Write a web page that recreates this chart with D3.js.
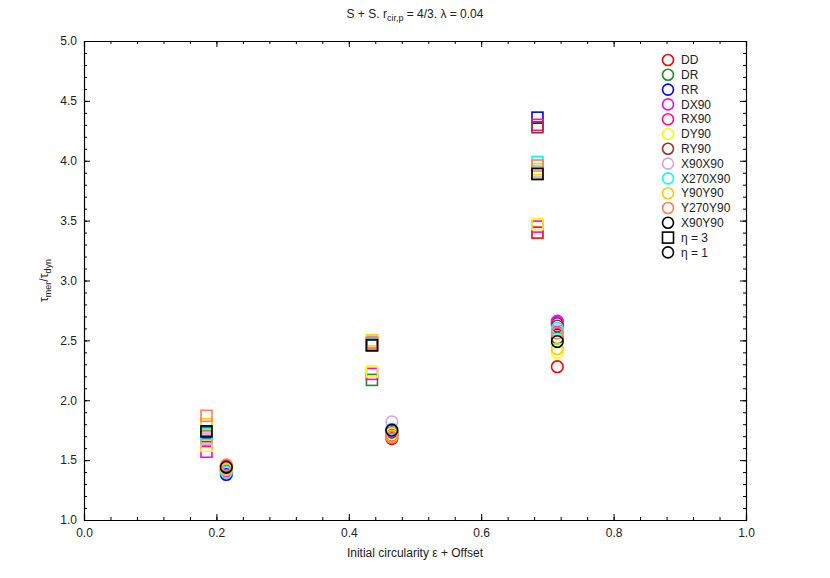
<!DOCTYPE html>
<html>
<head>
<meta charset="utf-8">
<script src="https://cdn.jsdelivr.net/npm/d3@7/dist/d3.min.js"></script>
<style>
body { margin: 0; background: #fff; }
text { font-family: "Liberation Sans", Arial, sans-serif; fill: #222; }
.axis path, .axis line { stroke: #000; }
.axis text { font-size: 12px; fill: #222; }
</style>
</head>
<body>
<script>
var width = 830, height = 578;
var margin = {left: 84, right: 84, top: 41, bottom: 58};

// series names and colours
var series = ["DD","DR","RR","DX90","RX90","DY90","RY90","X90X90","X270X90","Y90Y90","Y270Y90","X90Y90"];
var colors = ["#ff0000","#228b22","#0000ff","#ff00ff","#ff1493","#ffff00","#a52a2a","#dda0dd","#00ffff","#ffcc00","#ff7f50","#000000"];

// initial circularity values, offset applied per eta
var eps = [0.2, 0.45, 0.7];
var offset = 0.015;

// tau_mer / tau_dyn, eta = 3 (squares), one row per series, columns = eps
var eta3 = [
  [1.72, 2.47, 3.40],
  [1.72, 2.17, 3.89],
  [1.73, 2.46, 4.36],
  [1.57, 2.22, 3.45],
  [1.66, 2.48, 4.30],
  [1.62, 2.24, 3.47],
  [1.70, 2.46, 4.28],
  [1.68, 2.47, 3.91],
  [1.72, 2.47, 3.99],
  [1.80, 2.50, 3.93],
  [1.87, 2.48, 3.96],
  [1.74, 2.46, 3.89]
];

// tau_mer / tau_dyn, eta = 1 (circles)
var eta1 = [
  [1.45, 1.68, 2.28],
  [1.42, 1.72, 2.52],
  [1.38, 1.73, 2.64],
  [1.40, 1.74, 2.66],
  [1.41, 1.71, 2.65],
  [1.43, 1.72, 2.40],
  [1.44, 1.70, 2.62],
  [1.43, 1.82, 2.58],
  [1.40, 1.76, 2.60],
  [1.42, 1.70, 2.43],
  [1.46, 1.69, 2.56],
  [1.44, 1.75, 2.49]
];

var xTicks = [0.0, 0.2, 0.4, 0.6, 0.8, 1.0];
var yTicks = [1.0, 1.5, 2.0, 2.5, 3.0, 3.5, 4.0, 4.5, 5.0];

var svg = d3.select("body").append("svg")
  .attr("width", width)
  .attr("height", height);

var x = d3.scaleLinear().domain([0, 1]).range([margin.left, width - margin.right]);
var y = d3.scaleLinear().domain([1, 5]).range([height - margin.bottom, margin.top]);

var xMinor = d3.range(0, 1.0001, 0.04);
var yMinor = d3.range(1, 5.0001, 0.1);

// minor ticks on all four sides
svg.append("g").attr("class", "axis")
  .attr("transform", "translate(0," + y(1) + ")")
  .call(d3.axisBottom(x).tickValues(xMinor).tickSize(-3).tickFormat(""))
  .select(".domain").remove();
svg.append("g").attr("class", "axis")
  .attr("transform", "translate(0," + y(5) + ")")
  .call(d3.axisTop(x).tickValues(xMinor).tickSize(-3).tickFormat(""))
  .select(".domain").remove();
svg.append("g").attr("class", "axis")
  .attr("transform", "translate(" + x(0) + ",0)")
  .call(d3.axisLeft(y).tickValues(yMinor).tickSize(-3).tickFormat(""))
  .select(".domain").remove();
svg.append("g").attr("class", "axis")
  .attr("transform", "translate(" + x(1) + ",0)")
  .call(d3.axisRight(y).tickValues(yMinor).tickSize(-3).tickFormat(""))
  .select(".domain").remove();

// major ticks
svg.append("g").attr("class", "axis")
  .attr("transform", "translate(0," + y(1) + ")")
  .call(d3.axisBottom(x).tickValues(xTicks).tickSize(-6).tickPadding(8).tickFormat(d3.format(".1f")));
svg.append("g").attr("class", "axis")
  .attr("transform", "translate(0," + y(5) + ")")
  .call(d3.axisTop(x).tickValues(xTicks).tickSize(-6).tickFormat(""));
svg.append("g").attr("class", "axis")
  .attr("transform", "translate(" + x(0) + ",0)")
  .call(d3.axisLeft(y).tickValues(yTicks).tickSize(-6).tickPadding(7).tickFormat(d3.format(".1f")));
svg.append("g").attr("class", "axis")
  .attr("transform", "translate(" + x(1) + ",0)")
  .call(d3.axisRight(y).tickValues(yTicks).tickSize(-6).tickFormat(""));

svg.selectAll(".axis .domain").attr("stroke-width", 1.2);

// points
var plot = svg.append("g");
series.forEach(function(name, i) {
  eps.forEach(function(e, j) {
    plot.append("rect")
      .attr("x", x(e - offset) - 5.5)
      .attr("y", y(eta3[i][j]) - 5.5)
      .attr("width", 11)
      .attr("height", 11)
      .attr("fill", "none")
      .attr("stroke", colors[i])
      .attr("stroke-width", 1.6);
  });
  eps.forEach(function(e, j) {
    plot.append("circle")
      .attr("cx", x(e + offset))
      .attr("cy", y(eta1[i][j]))
      .attr("r", 5.8)
      .attr("fill", "none")
      .attr("stroke", colors[i])
      .attr("stroke-width", 1.6);
  });
});

// legend
var legend = svg.append("g").attr("transform", "translate(668,60)");
var rowH = 14.8;
series.forEach(function(name, i) {
  var g = legend.append("g").attr("transform", "translate(0," + i * rowH + ")");
  g.append("circle").attr("r", 5.5).attr("fill", "none")
    .attr("stroke", colors[i]).attr("stroke-width", 1.6);
  g.append("text").attr("x", 13).attr("dy", "0.35em")
    .style("font-size", "12px").text(name);
});
var g3 = legend.append("g").attr("transform", "translate(0," + 12 * rowH + ")");
g3.append("rect").attr("x", -5.5).attr("y", -5.5).attr("width", 11).attr("height", 11)
  .attr("fill", "none").attr("stroke", "#000").attr("stroke-width", 1.6);
g3.append("text").attr("x", 13).attr("dy", "0.35em").style("font-size", "12px").text("η = 3");
var g1 = legend.append("g").attr("transform", "translate(0," + 13 * rowH + ")");
g1.append("circle").attr("r", 5.5).attr("fill", "none")
  .attr("stroke", "#000").attr("stroke-width", 1.6);
g1.append("text").attr("x", 13).attr("dy", "0.35em").style("font-size", "12px").text("η = 1");

// title
var title = svg.append("text")
  .attr("x", width / 2).attr("y", 18)
  .attr("text-anchor", "middle")
  .style("font-size", "12px");
title.append("tspan").text("S + S. r");
title.append("tspan").attr("dy", 3).style("font-size", "9px").text("cir,p");
title.append("tspan").attr("dy", -3).text(" = 4/3. λ = 0.04");

// x label
svg.append("text")
  .attr("x", (x(0) + x(1)) / 2).attr("y", 557)
  .attr("text-anchor", "middle")
  .style("font-size", "12px")
  .text("Initial circularity ε + Offset");

// y label
var yl = svg.append("text")
  .attr("transform", "translate(48," + ((y(1) + y(5)) / 2) + ") rotate(-90)")
  .attr("text-anchor", "middle")
  .style("font-size", "12px");
yl.append("tspan").text("τ");
yl.append("tspan").attr("dy", 3).style("font-size", "9px").text("mer");
yl.append("tspan").attr("dy", -3).text("/τ");
yl.append("tspan").attr("dy", 3).style("font-size", "9px").text("dyn");
</script>
</body>
</html>
